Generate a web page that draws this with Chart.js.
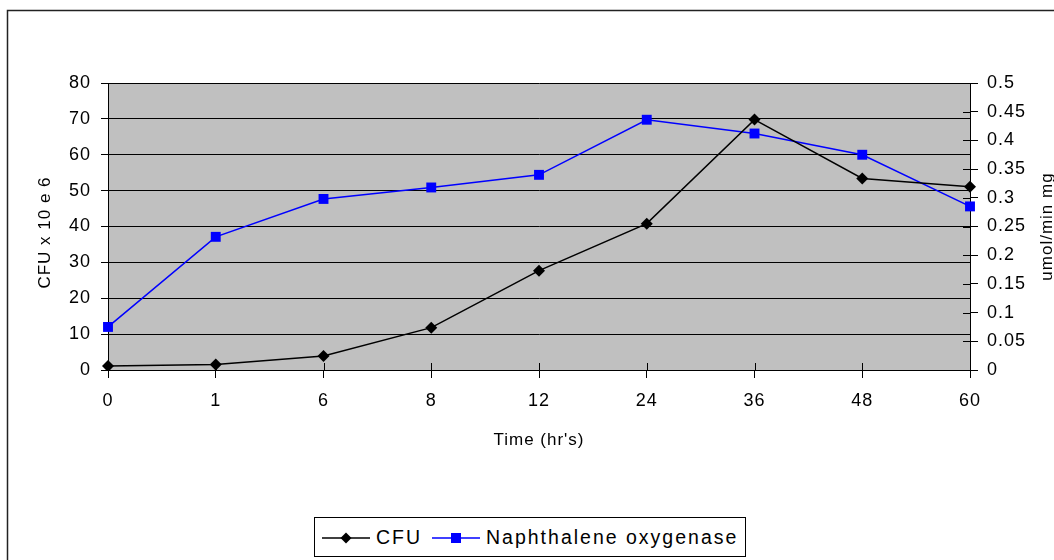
<!DOCTYPE html>
<html>
<head>
<meta charset="utf-8">
<script src="https://cdn.jsdelivr.net/npm/chart.js@4"></script>
<style>
  html, body { margin: 0; padding: 0; background: #fff; }
  #wrap { position: relative; width: 1054px; height: 560px; overflow: hidden; }
  #chart { position: absolute; left: 0; top: 0; }
  #legend {
    position: absolute; left: 314px; top: 517px; width: 432px; height: 40px;
    box-sizing: border-box; border: 1px solid #000; background: #fff;
    font-family: "Liberation Sans", Arial, sans-serif; font-size: 19.5px; letter-spacing: 2px; color: #000;
  }
  #legend svg, #legend span { position: absolute; }
  #legend span { top: 7px; line-height: 24px; white-space: nowrap; }
</style>
</head>
<body>
<div id="wrap">
  <canvas id="chart" width="1054" height="560"></canvas>
  <div id="legend">
    <svg style="left:7px;top:13px" width="48" height="14">
      <line x1="0" y1="7" x2="48" y2="7" stroke="#000" stroke-width="1.5"/>
      <path d="M24 1.5 L29.5 7 L24 12.5 L18.5 7 Z" fill="#000"/>
    </svg>
    <span style="left:61px">CFU</span>
    <svg style="left:117px;top:13px" width="48" height="14">
      <line x1="0" y1="7" x2="48" y2="7" stroke="#0000ff" stroke-width="1.5"/>
      <rect x="19" y="2" width="10" height="10" fill="#0000ff"/>
    </svg>
    <span style="left:171px">Naphthalene oxygenase</span>
  </div>
</div>
<script>
// Data
const times = ['0', '1', '6', '8', '12', '24', '36', '48', '60'];
const cfu = [1.1, 1.5, 3.9, 11.8, 27.7, 40.8, 69.8, 53.4, 51.1];
const naphthalene = [0.075, 0.232, 0.298, 0.318, 0.340, 0.436, 0.412, 0.375, 0.285];

const FONT = '"Liberation Sans", Arial, sans-serif';

// gray plot area, outer frame, inner halves of cross ticks, axis titles
const decorations = {
  id: 'decorations',
  beforeLayout(chart) {
    chart.ctx.letterSpacing = '1px';
  },
  beforeDraw(chart) {
    const { ctx, chartArea: a } = chart;
    ctx.letterSpacing = '1px';
    ctx.save();
    ctx.fillStyle = '#c0c0c0';
    ctx.fillRect(a.left, a.top, a.right - a.left, a.bottom - a.top);
    ctx.strokeStyle = '#222';
    ctx.lineWidth = 1.5;
    ctx.beginPath();
    ctx.moveTo(7.5, chart.height);
    ctx.lineTo(7.5, 10.5);
    ctx.lineTo(chart.width, 10.5);
    ctx.stroke();
    ctx.restore();
  },
  beforeDatasetsDraw(chart) {
    const { ctx, chartArea: a, scales } = chart;
    ctx.save();
    ctx.strokeStyle = '#000';
    ctx.lineWidth = 1;
    ctx.beginPath();
    scales.y1.ticks.forEach((t, i) => {
      const y = Math.round(scales.y1.getPixelForTick(i)) + 0.5;
      ctx.moveTo(a.right - 7, y);
      ctx.lineTo(a.right, y);
    });
    times.forEach((t, i) => {
      const x = Math.round(scales.x.getPixelForTick(i)) + 0.5;
      ctx.moveTo(x, a.bottom - 7);
      ctx.lineTo(x, a.bottom);
    });
    ctx.stroke();
    ctx.restore();
  },
  afterDraw(chart) {
    const { ctx, chartArea: a } = chart;
    const midY = (a.top + a.bottom) / 2;
    ctx.save();
    ctx.letterSpacing = '1px';
    ctx.fillStyle = '#000';
    ctx.font = '17px ' + FONT;
    ctx.textAlign = 'center';
    ctx.textBaseline = 'alphabetic';
    ctx.fillText("Time (hr's)", (a.left + a.right) / 2, 445);

    ctx.save();
    ctx.translate(50, midY + 6);
    ctx.rotate(-Math.PI / 2);
    ctx.fillText('CFU x 10 e 6', 0, 0);
    ctx.restore();

    ctx.save();
    ctx.translate(1052, midY);
    ctx.rotate(-Math.PI / 2);
    ctx.fillText('umol/min mg', 0, 0);
    ctx.restore();
    ctx.restore();
  }
};

const tickFont = { family: FONT, size: 18 };

new Chart(document.getElementById('chart'), {
  type: 'line',
  data: {
    labels: times,
    datasets: [
      {
        label: 'CFU',
        data: cfu,
        yAxisID: 'y',
        borderColor: '#000',
        backgroundColor: '#000',
        borderWidth: 1.5,
        pointStyle: 'rectRot',
        pointRadius: 6,
        pointBorderWidth: 0,
        tension: 0
      },
      {
        label: 'Naphthalene oxygenase',
        data: naphthalene,
        yAxisID: 'y1',
        borderColor: '#0000ff',
        backgroundColor: '#0000ff',
        borderWidth: 1.5,
        pointStyle: 'rect',
        pointRadius: 7,
        pointBorderWidth: 0,
        tension: 0
      }
    ]
  },
  options: {
    responsive: false,
    animation: false,
    devicePixelRatio: 1,
    layout: { padding: { top: 83, left: 0, right: 0, bottom: 0 } },
    plugins: {
      legend: { display: false },
      title: { display: false },
      tooltip: { enabled: false }
    },
    scales: {
      x: {
        type: 'category',
        offset: false,
        grid: { drawOnChartArea: false, tickLength: 8, color: '#000' },
        border: { color: '#000' },
        ticks: { font: tickFont, color: '#000', padding: 12, maxRotation: 0, autoSkip: false },
        afterFit: s => { s.height = 190; }
      },
      y: {
        position: 'left',
        min: 0,
        max: 80,
        grid: { color: '#000', tickLength: 7 },
        border: { color: '#000' },
        ticks: { stepSize: 10, font: tickFont, color: '#000', padding: 10 },
        afterFit: s => { s.width = 108; }
      },
      y1: {
        position: 'right',
        min: 0,
        max: 0.5,
        grid: { drawOnChartArea: false, color: '#000', tickLength: 8 },
        border: { color: '#000' },
        ticks: {
          stepSize: 0.05, font: tickFont, color: '#000', padding: 9,
          callback: v => String(+v.toFixed(2))
        },
        afterFit: s => { s.width = 84; }
      }
    }
  },
  plugins: [decorations]
});
</script>
</body>
</html>
